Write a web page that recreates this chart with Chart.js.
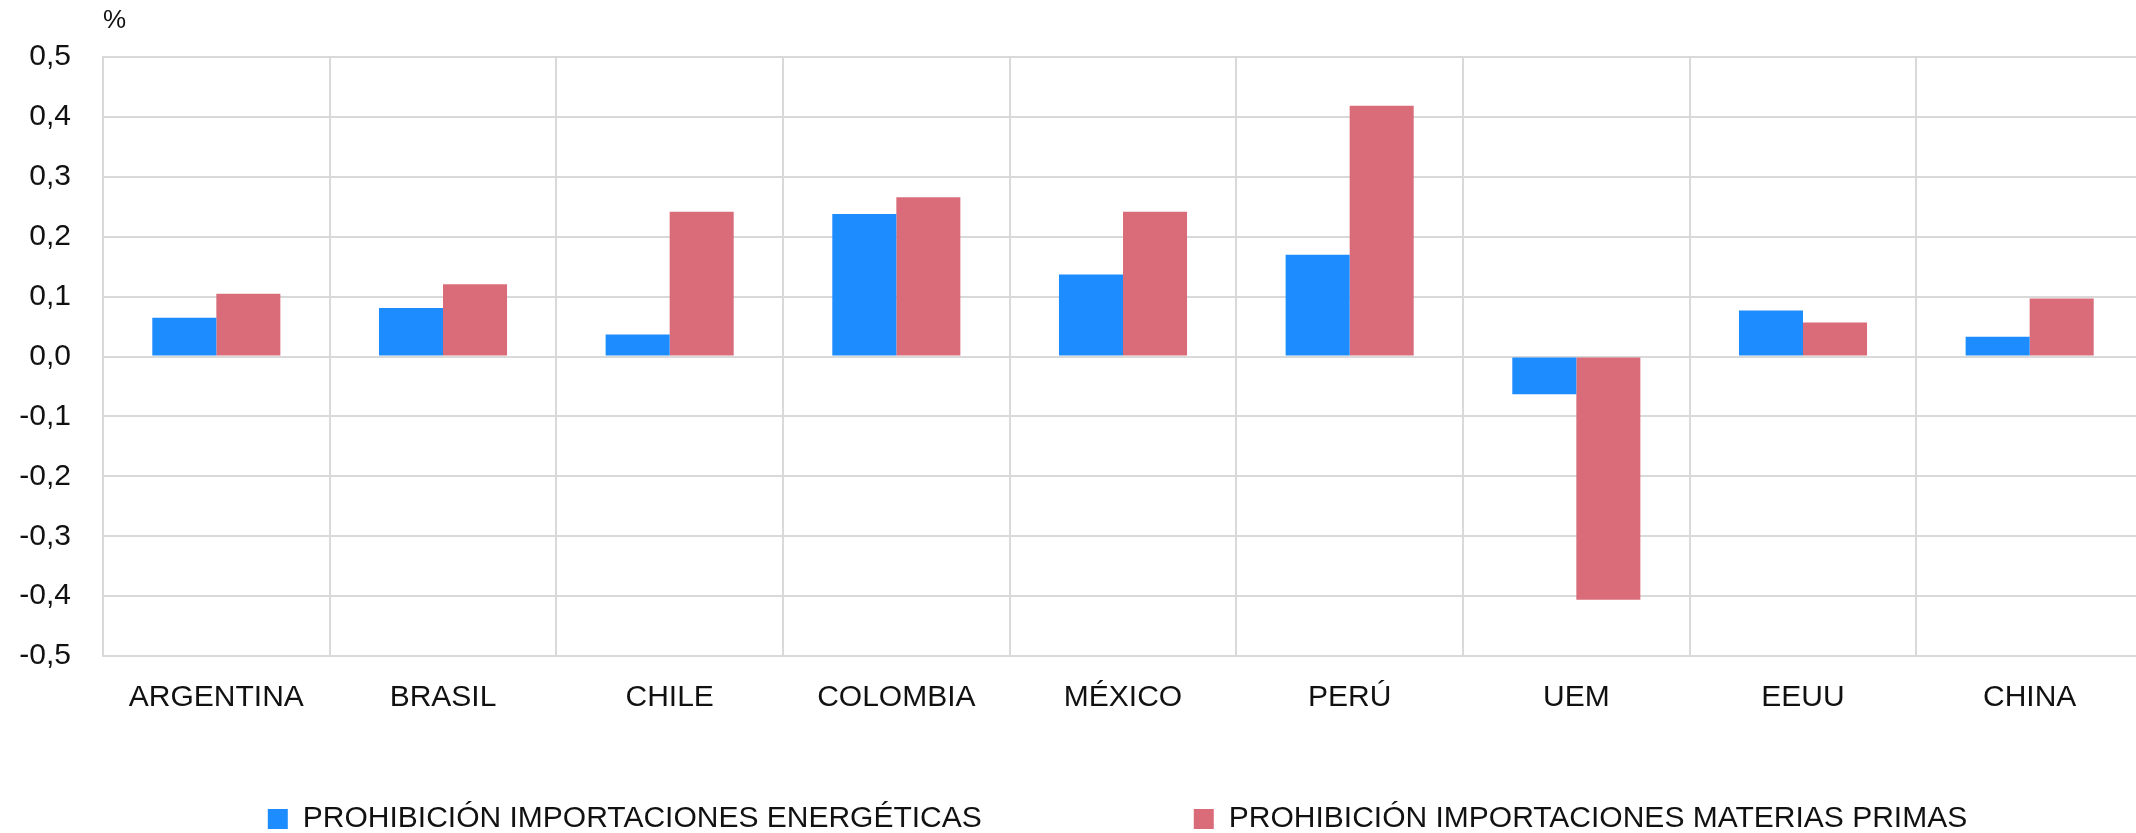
<!DOCTYPE html>
<html>
<head>
<meta charset="utf-8">
<script src="https://cdn.jsdelivr.net/npm/chart.js@4/dist/chart.umd.min.js"></script>
<style>
  html, body { margin: 0; padding: 0; background: #fff; overflow: hidden; }
  #wrap { width: 2136px; height: 833px; overflow: hidden; }
</style>
</head>
<body>
<div id="wrap"><canvas id="myChart" width="2250" height="844"></canvas></div>
<script>
const paises = ["ARGENTINA", "BRASIL", "CHILE", "COLOMBIA", "MÉXICO", "PERÚ", "UEM", "EEUU", "CHINA"];
const energeticas = [0.065, 0.081, 0.037, 0.238, 0.137, 0.170, -0.063, 0.077, 0.033];
const materiasPrimas = [0.105, 0.121, 0.242, 0.266, 0.242, 0.419, -0.406, 0.057, 0.097];
const serieNombres = ["PROHIBICIÓN IMPORTACIONES ENERGÉTICAS", "PROHIBICIÓN IMPORTACIONES MATERIAS PRIMAS"];
const unidad = "%";

window.onload = () => {
    const gris = "#d9d9d9";
    const fuente = "'Liberation Sans', Arial, sans-serif";

    // la leyenda va mas abajo y algo desplazada, como en el original
    const moverLeyenda = {
        id: "moverLeyenda",
        afterLayout(chart) {
            const lg = chart.legend;
            lg.left += 46;
            lg.right += 46;
            lg.top = 592;
            lg.bottom = 844;
            lg.height = lg.bottom - lg.top;
        },
    };

    const data = {
        labels: paises,
        datasets: [
            {
                label: serieNombres[0],
                data: energeticas,
                backgroundColor: "#1c8cff",
                borderWidth: 0,
            },
            {
                label: serieNombres[1],
                data: materiasPrimas,
                backgroundColor: "#da6c79",
                borderWidth: 0,
            },
        ],
    };

    const config = {
        type: "bar",
        data: data,
        plugins: [moverLeyenda],
        options: {
            responsive: false,
            animation: false,
            categoryPercentage: 0.565,
            barPercentage: 1.0,
            layout: { padding: { left: 0, right: 107, top: 0, bottom: 68 } },
            scales: {
                x: {
                    grid: { color: gris, lineWidth: 2, drawTicks: false },
                    border: { color: gris, width: 2 },
                    ticks: {
                        color: "#111",
                        padding: 24,
                        font: { family: fuente, size: 30 },
                        maxRotation: 0,
                        autoSkip: false,
                    },
                    afterFit: (s) => { s.height = 60; },
                },
                y: {
                    min: -0.5,
                    max: 0.5,
                    grid: { color: gris, lineWidth: 2, drawTicks: false },
                    border: { color: gris, width: 2 },
                    ticks: {
                        stepSize: 0.1,
                        autoSkip: false,
                        color: "#111",
                        padding: 32,
                        font: { family: fuente, size: 30 },
                        callback: (v) => (Math.abs(v) < 1e-9 ? 0 : v).toFixed(1).replace(".", ","),
                    },
                    afterFit: (s) => { s.width = 103; },
                },
            },
            plugins: {
                title: {
                    display: true,
                    text: unidad,
                    align: "start",
                    fullSize: false,
                    color: "#111",
                    font: { family: fuente, size: 26, weight: "normal" },
                    padding: { top: 5, bottom: 21 },
                },
                legend: {
                    position: "bottom",
                    align: "center",
                    maxHeight: 60,
                    labels: {
                        boxWidth: 20,
                        boxHeight: 20,
                        padding: 212,
                        color: "#111",
                        font: { family: fuente, size: 30 },
                    },
                },
                tooltip: { enabled: false },
            },
        },
    };

    const myChart = new Chart(document.getElementById("myChart"), config);
};
</script>
</body>
</html>
